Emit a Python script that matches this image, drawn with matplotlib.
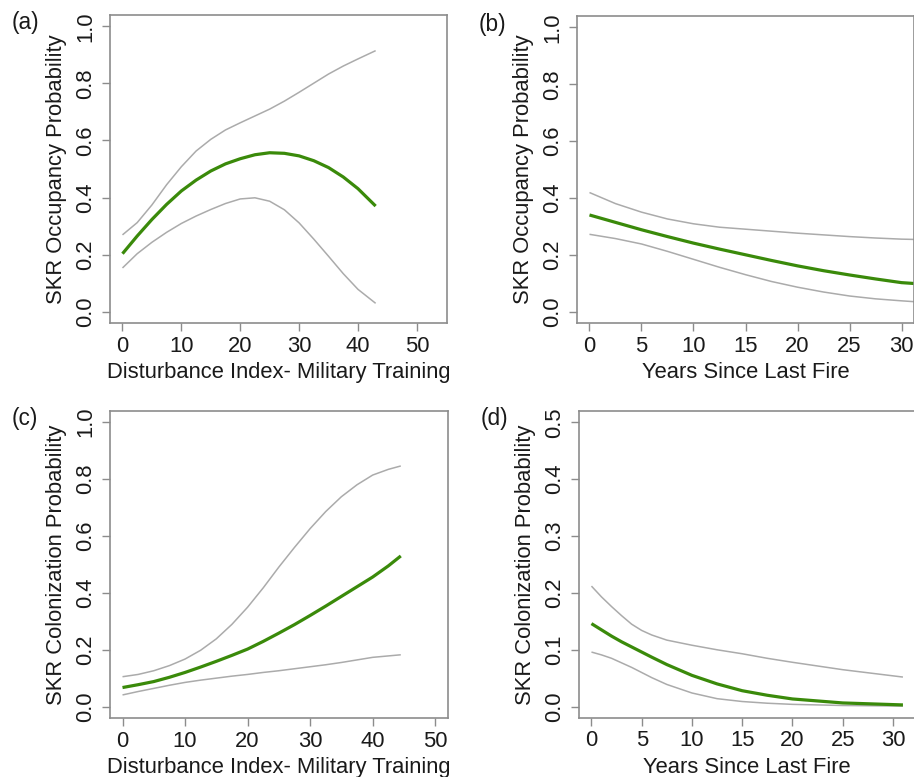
import matplotlib
matplotlib.use("Agg")
import matplotlib.pyplot as plt
import numpy as np

plt.rcParams['font.family'] = ['Liberation Sans', 'DejaVu Sans']

# ---- Data ----
# (a) occupancy vs disturbance index
a_x = [0, 2.5, 5, 7.5, 10, 12.5, 15, 17.5, 20, 22.5, 25, 27.5, 30, 32.5, 35, 37.5, 40, 43]
a_mean = [0.203, 0.265, 0.323, 0.376, 0.423, 0.461, 0.493, 0.518, 0.536, 0.550, 0.557, 0.555, 0.546, 0.529, 0.505, 0.472, 0.431, 0.370]
a_up = [0.269, 0.312, 0.374, 0.445, 0.508, 0.563, 0.604, 0.637, 0.662, 0.686, 0.710, 0.738, 0.769, 0.801, 0.833, 0.861, 0.886, 0.915]
a_lo = [0.153, 0.203, 0.243, 0.278, 0.309, 0.335, 0.358, 0.379, 0.395, 0.399, 0.387, 0.357, 0.311, 0.254, 0.194, 0.133, 0.078, 0.029]

# (b) occupancy vs years since fire
b_x = [0, 2.5, 5, 7.5, 10, 12.5, 15, 17.5, 20, 22.5, 25, 27.5, 30, 31.2]
b_mean = [0.340, 0.314, 0.288, 0.264, 0.241, 0.220, 0.200, 0.180, 0.161, 0.144, 0.129, 0.115, 0.102, 0.099]
b_up = [0.419, 0.380, 0.350, 0.326, 0.309, 0.297, 0.290, 0.283, 0.276, 0.270, 0.264, 0.259, 0.255, 0.254]
b_lo = [0.272, 0.257, 0.238, 0.212, 0.184, 0.156, 0.130, 0.106, 0.086, 0.069, 0.055, 0.045, 0.038, 0.035]

# (c) colonization vs disturbance index
c_x = [0, 2.5, 5, 7.5, 10, 12.5, 15, 17.5, 20, 22.5, 25, 27.5, 30, 32.5, 35, 37.5, 40, 42.5, 44.5]
c_mean = [0.068, 0.078, 0.089, 0.104, 0.121, 0.140, 0.160, 0.181, 0.203, 0.230, 0.259, 0.289, 0.321, 0.354, 0.388, 0.422, 0.456, 0.495, 0.530]
c_up = [0.106, 0.114, 0.127, 0.145, 0.168, 0.199, 0.239, 0.290, 0.350, 0.418, 0.491, 0.560, 0.626, 0.686, 0.738, 0.780, 0.814, 0.834, 0.846]
c_lo = [0.042, 0.054, 0.065, 0.076, 0.086, 0.094, 0.101, 0.108, 0.114, 0.121, 0.127, 0.134, 0.141, 0.148, 0.156, 0.165, 0.174, 0.179, 0.183]

# (d) colonization vs years since fire
d_x = [0, 1, 2, 3, 4, 5, 6, 7.5, 10, 12.5, 15, 17.5, 20, 25, 31]
d_mean = [0.146, 0.135, 0.124, 0.114, 0.105, 0.096, 0.087, 0.074, 0.055, 0.040, 0.028, 0.020, 0.0135, 0.0065, 0.003]
d_up = [0.212, 0.193, 0.176, 0.160, 0.145, 0.134, 0.126, 0.117, 0.108, 0.100, 0.093, 0.085, 0.078, 0.065, 0.052]
d_lo = [0.096, 0.091, 0.085, 0.077, 0.069, 0.060, 0.051, 0.039, 0.024, 0.014, 0.009, 0.006, 0.004, 0.002, 0.001]

panels = [
    dict(tag="(a)", x=a_x, m=a_mean, u=a_up, l=a_lo,
         xlabel="Disturbance Index- Military Training",
         ylabel="SKR Occupancy Probability",
         xticks=[0, 10, 20, 30, 40, 50], xlim=(-2.12, 55.12),
         yticks=[0.0, 0.2, 0.4, 0.6, 0.8, 1.0], ylim=(-0.04, 1.04)),
    dict(tag="(b)", x=b_x, m=b_mean, u=b_up, l=b_lo,
         xlabel="Years Since Last Fire",
         ylabel="SKR Occupancy Probability",
         xticks=[0, 5, 10, 15, 20, 25, 30], xlim=(-1.2, 31.2),
         yticks=[0.0, 0.2, 0.4, 0.6, 0.8, 1.0], ylim=(-0.04, 1.04)),
    dict(tag="(c)", x=c_x, m=c_mean, u=c_up, l=c_lo,
         xlabel="Disturbance Index- Military Training",
         ylabel="SKR Colonization Probability",
         xticks=[0, 10, 20, 30, 40, 50], xlim=(-2.0, 52.0),
         yticks=[0.0, 0.2, 0.4, 0.6, 0.8, 1.0], ylim=(-0.04, 1.04)),
    dict(tag="(d)", x=d_x, m=d_mean, u=d_up, l=d_lo,
         xlabel="Years Since Last Fire",
         ylabel="SKR Colonization Probability",
         xticks=[0, 5, 10, 15, 20, 25, 30], xlim=(-1.24, 32.24),
         yticks=[0.0, 0.1, 0.2, 0.3, 0.4, 0.5], ylim=(-0.02, 0.52)),
]

W, H = 914, 777
fig = plt.figure(figsize=(W / 100, H / 100), dpi=100)

# axes boxes in pixels: left, right, top, bottom
boxes = [(110, 447, 15, 323), (577, 914, 16, 323),
         (110, 447.7, 410.7, 718.3), (579, 915.4, 411, 718)]

GREEN = "#3a8a0a"
GRAY = "#ababab"
BOX = "#8c8c8c"
FS = 15.8

for p, (l, r, t, b) in zip(panels, boxes):
    ax = fig.add_axes([l / W, 1 - b / H, (r - l) / W, (b - t) / H])
    ax.plot(p["x"], p["u"], color=GRAY, lw=1.1, solid_capstyle="butt")
    ax.plot(p["x"], p["l"], color=GRAY, lw=1.1, solid_capstyle="butt")
    ax.plot(p["x"], p["m"], color=GREEN, lw=2.3, solid_capstyle="butt")
    ax.set_xlim(*p["xlim"])
    ax.set_ylim(*p["ylim"])
    ax.set_xticks(p["xticks"])
    ax.set_yticks(p["yticks"])
    ax.set_xticklabels([str(v) for v in p["xticks"]])
    ax.set_yticklabels(["%.1f" % v for v in p["yticks"]], rotation=90, va="center")
    for s in ax.spines.values():
        s.set_color(BOX)
        s.set_linewidth(1.2)
    ax.tick_params(axis="both", direction="out", length=6, width=1.0, color=BOX,
                   labelsize=FS, labelcolor="#1a1a1a")
    ax.tick_params(axis="x", pad=3)
    ax.tick_params(axis="y", pad=4)
    ax.set_xlabel(p["xlabel"], fontsize=FS, color="#1a1a1a", labelpad=4)
    ax.set_ylabel(p["ylabel"], fontsize=FS, color="#1a1a1a", labelpad=6)
    fig.text((l - 85) / W, 1 - (t + 8) / H, p["tag"], fontsize=FS + 0.5,
             color="#1a1a1a", ha="center", va="center")

fig.savefig("out.png", dpi=100)
